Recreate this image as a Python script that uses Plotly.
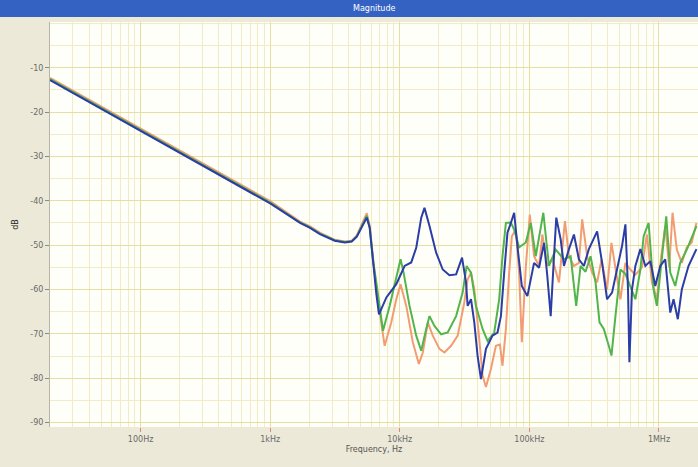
import math
import plotly.graph_objects as go

# ---- data (frequency in Hz, magnitude in dB) ----
blue_freq = [20, 100, 1000, 1700, 2030, 2420, 3150, 3770, 4260, 4660, 5180, 5560, 5860, 6210,
             6600, 6910, 7880, 9400, 10890, 12260, 13390, 14640, 15510, 16950, 19080, 21450,
             24150, 27200, 30230, 32440, 33380, 35450, 37570, 39830, 42300, 46230, 51950,
             56750, 60280, 63900, 67750, 71950, 76280, 80870, 87420, 96520, 108670, 118750,
             129720, 137520, 146040, 154840, 161250, 174340, 184790, 201960, 220650, 240990,
             263300, 287690, 333200, 364020, 397600, 434370, 474640, 518600, 550800, 576800,
             591200, 619100, 657400, 718400, 784800, 857200, 936400, 1023000, 1118000,
             1222000, 1295000, 1398000, 1500000, 1689000, 1945000]
blue_db = [-12.8, -24.3, -40.6, -45.0, -46.1, -47.5, -49.0, -49.4, -49.2, -48.1, -45.4, -43.8, -46.1, -53.6,
           -61.1, -65.6, -61.8, -58.8, -54.7, -53.9, -50.6, -43.8, -41.6, -45.7, -51.7, -55.5,
           -56.8, -56.6, -52.8, -58.4, -63.7, -62.2, -67.4, -74.9, -80.2, -73.4, -70.4,
           -69.7, -66.0, -56.2, -47.2, -45.0, -42.7, -50.2, -59.2, -61.5, -54.0, -55.1,
           -49.5, -57.0, -66.0, -52.5, -43.8, -48.7, -54.7, -50.9, -47.6, -53.2,
           -54.7, -50.9, -46.9, -54.0, -62.2, -60.7, -55.5, -50.2, -45.3, -60.0,
           -76.4, -60.0, -54.7, -50.9, -54.7, -53.6, -59.2, -54.7, -53.2,
           -65.2, -62.2, -66.7, -60.0, -54.7, -50.9]

green_freq = [20, 100, 1000, 1700, 2030, 2420, 3150, 3770, 4260, 4660, 5180, 5560, 5860, 6210,
              6600, 7420, 8350, 9400, 10140, 10700, 11890, 13390, 14640, 15990, 16950, 18520,
              20850, 23430, 27200, 30550, 32790, 35450, 38720, 43520, 47560, 53540, 58490,
              62020, 65860, 71950, 76280, 83330, 93830, 102520, 112000, 128120, 141700,
              159550, 184790, 208140, 229770, 248370, 271350, 296450, 323900, 347640, 375150,
              409770, 429790, 461400, 504100, 550800, 601800, 657400, 718400, 761500, 831800,
              908700, 963300, 1053000, 1138000, 1222000, 1335000, 1458000, 1639000, 1945000]
green_db = [-12.6, -24.0, -40.4, -44.9, -46.0, -47.4, -48.9, -49.3, -49.1, -48.0, -45.3, -43.4, -46.0, -53.4,
            -58.5, -69.3, -63.7, -57.0, -53.2, -56.2, -63.7, -70.4, -73.8, -68.9, -66.0, -68.2,
            -70.1, -69.7, -66.0, -60.7, -54.7, -56.2, -63.7, -68.9, -71.6, -69.7, -62.2,
            -52.5, -45.0, -44.9, -46.5, -50.5, -49.4, -45.0, -52.5, -42.7, -54.7,
            -51.0, -53.2, -52.5, -63.7, -54.7, -56.0, -52.5, -58.4, -67.4, -68.9,
            -72.7, -74.9, -66.0, -55.5, -56.5, -59.2, -62.2, -55.5, -48.0, -45.0,
            -60.0, -63.7, -52.5, -43.5, -56.2, -59.2, -54.0, -51.0, -45.7]

orange_freq = [20, 100, 1000, 1700, 2030, 2420, 3150, 3770, 4260, 4660, 5180, 5560, 5860, 6210,
               6600, 7640, 8600, 9400, 10140, 11220, 12610, 14030, 15060, 16450, 17970, 20230,
               22100, 24880, 27980, 31480, 33380, 35450, 37570, 41050, 43520, 46230, 50500,
               55170, 59220, 62020, 65860, 69820, 73230, 78610, 83330, 87420, 93830, 100720,
               108670, 118750, 125870, 137520, 150240, 169160, 188100, 201960, 220650, 240990,
               255510, 279150, 304970, 333200, 360190, 397600, 429790, 466300, 504100, 550800,
               601800, 657400, 739000, 807300, 881800, 963300, 1041000, 1118000, 1200000,
               1272000, 1373000, 1500000, 1639000, 1789000, 1945000]
orange_db = [-12.3, -23.7, -40.1, -44.7, -45.8, -47.2, -48.8, -49.2, -49.0, -47.8, -44.9, -42.8, -45.6, -53.0,
             -60.0, -72.7, -67.4, -62.2, -58.8, -63.7, -71.9, -76.8, -74.2, -67.4, -70.4, -73.4,
             -74.2, -72.7, -70.4, -62.9, -57.7, -56.2, -60.0, -71.2, -79.4, -82.0, -77.9,
             -72.7, -72.4, -77.2, -68.9, -56.2, -48.0, -46.5, -56.2, -71.9, -55.0, -43.1,
             -52.5, -54.7, -47.6, -54.7, -53.0, -58.4, -44.6, -52.5, -54.7, -54.0,
             -44.2, -52.5, -56.2, -58.4, -53.2, -60.0, -49.5, -56.0, -62.2, -54.0,
             -55.5, -56.7, -55.0, -47.6, -58.4, -62.2, -52.5, -45.7, -55.0,
             -42.7, -51.0, -54.0, -50.5, -49.4, -45.0]

x_tick_vals = [100, 1000, 10000, 100000, 1000000]
x_tick_text = ["100Hz", "1kHz", "10kHz", "100kHz", "1MHz"]
y_tick_vals = [-10, -20, -30, -40, -50, -60, -70, -80, -90]
y_tick_text = ["-10", "-20", "-30", "-40", "-50", "-60", "-70", "-80", "-90"]

# ---- figure ----
W, H = 698, 467
ML, MR, MT, MB = 50, 0, 22, 40
PW, PH = W - ML - MR, H - MT - MB

fig = go.Figure()
for fx, fy, col in [(orange_freq, orange_db, "#F29C74"),
                    (green_freq, green_db, "#52B54C"),
                    (blue_freq, blue_db, "#2B3DA6")]:
    fig.add_trace(go.Scatter(x=fx, y=fy, mode="lines",
                             line=dict(color=col, width=2), hoverinfo="skip"))

tick_font = dict(family="DejaVu Sans", size=8, color="#6A6A6A")

fig.update_layout(
    width=W, height=H,
    margin=dict(l=ML, r=MR, t=MT, b=MB, autoexpand=False),
    paper_bgcolor="#ECE9D8",
    plot_bgcolor="#FFFFFA",
    showlegend=False,
    xaxis=dict(
        type="log", range=[math.log10(20), math.log10(2e6)],
        tickmode="array", tickvals=x_tick_vals, ticktext=x_tick_text,
        ticks="outside", ticklen=4, tickcolor="#D08A8A",
        tickfont=tick_font, automargin=False,
        showgrid=True, gridcolor="#E7DEA2", gridwidth=1,
        minor=dict(dtick="D1", showgrid=True, gridcolor="#F1EBC6", ticks=""),
        zeroline=False, showline=False,
        title=dict(text="Frequency, Hz", font=dict(family="DejaVu Sans", size=8, color="#555555"),
                   standoff=3),
    ),
    yaxis=dict(
        range=[-91, 0.3],
        tickmode="array", tickvals=y_tick_vals, ticktext=y_tick_text,
        ticks="outside", ticklen=4, tickcolor="#8A8A8A",
        tickfont=tick_font, automargin=False,
        showgrid=True, gridcolor="#E7DEA2", gridwidth=1,
        minor=dict(dtick=5, showgrid=True, gridcolor="#F1EBC6", ticks=""),
        zeroline=False, showline=True, linecolor="#B8B5A5", linewidth=1,
        title=dict(text="dB", font=dict(family="DejaVu Sans", size=8, color="#222222"),
                   standoff=10),
    ),
    shapes=[dict(type="rect", xref="paper", yref="paper",
                 x0=-ML / PW, x1=1.0 + MR / PW,
                 y0=1 + (MT - 17) / PH, y1=1 + MT / PH,
                 fillcolor="#3462C2", line=dict(width=0), layer="above")],
    annotations=[dict(text="Magnitude", xref="paper", yref="paper",
                      x=0.5, y=1 + (MT - 8.5) / PH, xanchor="center", yanchor="middle",
                      showarrow=False,
                      font=dict(family="DejaVu Sans", size=8, color="#FFFFFF"))],
)

fig.write_html("out.html",
               config={"displayModeBar": False},
               post_script="document.body.style.margin='0';document.body.style.overflow='hidden';")
